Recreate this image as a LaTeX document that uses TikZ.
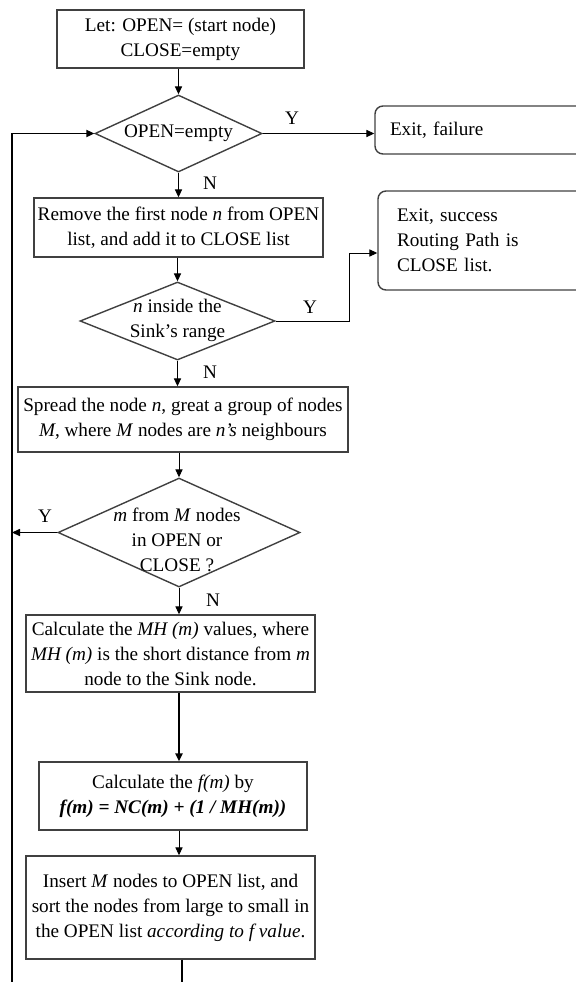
\documentclass[tikz,border=0pt]{standalone}
\usepackage{fontspec}
\setmainfont{Liberation Serif}
\usetikzlibrary{shapes.geometric, arrows.meta, positioning}
\tikzset{
	process/.style  ={rectangle, draw=black!75, line width=0.7pt, align=center, inner sep=1pt},
	decision/.style ={diamond, draw=black!75, line width=0.7pt, inner sep=0pt},
	dtext/.style    ={align=center, inner sep=0pt},
	startstop/.style={rectangle, rounded corners=4pt, draw=black!75, line width=0.7pt, align=left},
	sig/.style      ={-{Triangle[length=4pt, width=3.6pt]}, line width=0.5pt},
	bigsig/.style   ={-{Triangle[length=4pt, width=3.6pt]}, line width=1.3pt},
	% branch labels
	yn/.style       ={inner sep=0pt},
}
\begin{document}
\begin{tikzpicture}[x=0.5pt, y=-0.5pt, font=\fontsize{9.6}{12.5}\selectfont]
\useasboundingbox (0,0) rectangle (575,982);
\node[process, minimum width=123.5pt, minimum height=29pt] (init) at (180.5,39) {Let: OPEN= (start node)\\CLOSE=empty};
\node[decision, minimum width=83.5pt, minimum height=38.5pt] (d1) at (178.5,133.5) {};
\node[dtext] (d1t) at (178.5,133) {OPEN=empty};
\node[startstop, minimum height=24pt, text width=105pt, inner xsep=7.5pt] (fail) at (495,130) {Exit, failure};
\node[process, minimum width=144.5pt, minimum height=29.5pt] (rem) at (178.5,227.5) {Remove the first node \textit{n} from OPEN\\list, and add it to CLOSE list};
\node[startstop, minimum height=49.5pt, text width=101pt, inner xsep=9.5pt] (succ) at (498,240.5) {Exit, success\\Routing Path is\\CLOSE list.};
\node[decision, minimum width=97.5pt, minimum height=39pt] (d2) at (177.5,321) {};
\node[dtext] (d2t) at (177.5,320) {\textit{n} inside the\\Sink’s range};
\node[process, minimum width=165pt, minimum height=32.5pt] (spr) at (183,419.5) {Spread the node \textit{n}, great a group of nodes\\\textit{M}, where \textit{M} nodes are \textit{n's} neighbours};
\node[decision, minimum width=121pt, minimum height=54.5pt] (d3) at (179,532.5) {};
\node[dtext] (d3t) at (177,540) {\textit{m} from \textit{M} nodes\\in OPEN or\\CLOSE ?};
\node[process, minimum width=144.5pt, minimum height=38.5pt] (mh) at (170.5,653.5) {Calculate the \textit{MH (m)} values, where\\\textit{MH (m)} is the short distance from \textit{m}\\node to the Sink node.};
\node[process, minimum width=134pt, minimum height=34pt] (fm) at (173,796) {Calculate the \textit{f(m)} by\\\textbf{\textit{f(m) = NC(m) + (1 / MH(m))}}};
\node[process, minimum width=144.5pt, minimum height=51.5pt] (ins) at (170.5,907.5) {Insert \textit{M} nodes to OPEN list, and\\sort the nodes from large to small in\\the OPEN list \textit{according to f value}.};
\node[yn] (y1) at (292,118) {Y};
\node[yn] (n1) at (210,183) {N};
\node[yn] (y2) at (310,307) {Y};
\node[yn] (n2) at (210,372) {N};
\node[yn] (y3) at (45,516) {Y};
\node[yn] (n3) at (213,600) {N};
\coordinate (back) at (12,982);
\coordinate (loop) at (182,982);
\draw[sig] (init.south -| d1.north) -- (d1.north);
\draw[sig] (d1.south) -- (rem.north -| d1.south);
\draw[sig] (d1.east) -- (d1.east -| fail.west);
\draw[sig] (rem.south -| d2.north) -- (d2.north);
\draw[sig] (d2.east) -- ++(74,0) |- ([yshift=-6.25pt]succ.west);
\draw[sig] (d2.south) -- (spr.north -| d2.south);
\draw[sig] (spr.south -| d3.north) -- (d3.north);
\draw[sig] (d3.south) -- (mh.north -| d3.south);
\draw[sig] (d3.west) -- (d3.west -| back);
\draw[bigsig] (mh.south -| d3.south) -- (fm.north -| d3.south);
\draw[sig] (fm.south -| d3.south) -- (ins.north -| d3.south);
\draw[line width=0.7pt] (ins.south -| loop) -- (loop);
\draw[sig, line width=0.7pt] (back) |- (d1.west);
\end{tikzpicture}
\end{document}
